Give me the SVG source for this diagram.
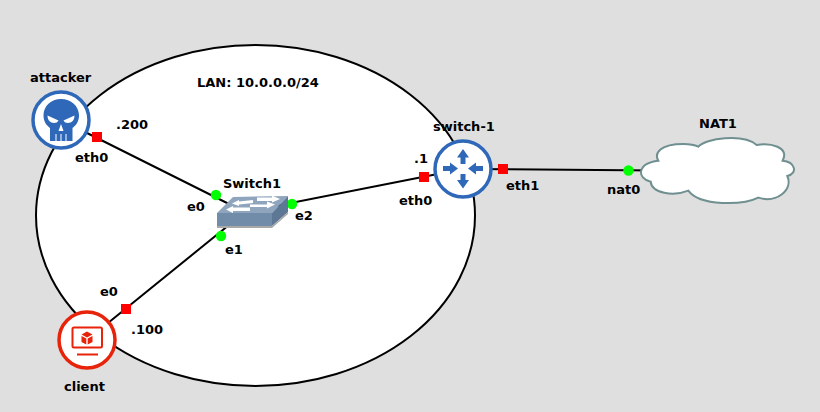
<svg xmlns="http://www.w3.org/2000/svg" width="820" height="412" viewBox="0 0 820 412">
<style>
text{font-family:"DejaVu Sans",sans-serif;font-weight:700;font-size:13px;fill:#000}
.l{stroke:#000;stroke-width:2;fill:none}
.r{fill:#f00}
.g{fill:#0f0}
.blue{fill:#2f68b8}
</style>
<rect width="820" height="412" fill="#dfdfdf"/>
<ellipse cx="255.5" cy="215.5" rx="219.5" ry="170.5" fill="#fff" stroke="#000" stroke-width="2"/>
<text x="197" y="87">LAN: 10.0.0.0/24</text>
<g id="connectors">
<line class="l" x1="61" y1="120" x2="245" y2="212"/>
<line class="l" x1="87" y1="340" x2="245" y2="212"/>
<line class="l" x1="245" y1="212" x2="463" y2="169"/>
<line class="l" x1="463" y1="169" x2="716" y2="171"/>
</g>
<g id="ports">
<rect class="r" x="92" y="132" width="10" height="10"/>
<rect class="r" x="121" y="304" width="10" height="10"/>
<rect class="r" x="419" y="172" width="10" height="10"/>
<rect class="r" x="498" y="164" width="10" height="10"/>
<circle class="g" cx="216" cy="195" r="5.200"/>
<circle class="g" cx="221" cy="236" r="5.200"/>
<circle class="g" cx="292" cy="204" r="5.200"/>
<circle class="g" cx="628.500" cy="170.500" r="5.200"/>
</g>
<g id="attacker">
<circle cx="61" cy="120" r="28" fill="#fff" stroke="#2f68b8" stroke-width="3.500"/>
<path class="blue" d="M61 99C71 99 79 106 79 115.500C79 121 76.500 125 72.500 128V141H50V128C46 125 43.500 121 43.500 115.500C43.500 106 51 99 61 99Z"/>
<path fill="#fff" d="M47.500 115.500L58.500 120.500C57.500 123 54 123.500 51.500 122.500C49 121.500 47.500 119 47.500 115.500ZM74.500 115.500L63.500 120.500C64.500 123 68 123.500 70.500 122.500C73 121.500 74.500 119 74.500 115.500ZM61 124L63.500 131H58.500ZM55.500 134h1v7h-1ZM60.500 134h1v7h-1ZM65.500 134h1v7h-1Z"/>
<text x="30" y="82">attacker</text>
<text x="75" y="162">eth0</text>
<text x="116" y="129">.200</text>
</g>
<g id="Switch1">
<path fill="#8fa5bd" d="M217 213L233 197L288 196L272 213Z"/>
<path fill="#708ca9" d="M217 213H272V226H217Z"/>
<path fill="#5d7894" d="M272 213L288 196V212L272 226Z"/>
<path fill="#a8a8a8" d="M217 226H272L288 212V214L272 228H217Z"/>
<path fill="#fff" d="M232 203.500L239 200V201.500L253 200V203L239 204.500V206ZM280 199L272 202.500V201H257V197.500H272V195.500ZM226 209.500L233 206V207.500H250V211H233V213ZM275 204.500L267 208.500V207H250V204.500H267V201.500Z"/>
<text x="223" y="188">Switch1</text>
<text x="187" y="211">e0</text>
<text x="225" y="254">e1</text>
<text x="295" y="220">e2</text>
</g>
<g id="switch-1">
<circle cx="463" cy="169" r="28" fill="#fff" stroke="#2f68b8" stroke-width="3.500"/>
<path class="blue" d="M463 149L469 157.500H465.500V164H460.500V157.500H457ZM463 188.500L469 180H465.500V174H460.500V180H457ZM458 168.500L450 162.500V166H443V171H450V174.500ZM468 168.500L476 162.500V166H483V171H476V174.500Z"/>
<text x="433" y="131">switch-1</text>
<text x="414" y="163">.1</text>
<text x="399" y="205">eth0</text>
<text x="506" y="190">eth1</text>
</g>
<g id="client">
<circle cx="87" cy="340" r="28" fill="#fff" stroke="#e8230a" stroke-width="3.500"/>
<rect x="72.500" y="327.500" width="29.500" height="20" rx="1.500" fill="none" stroke="#e8230a" stroke-width="2"/>
<path fill="#e8230a" d="M77 353.500H98V355.500H77ZM87 331.500L92.500 334.500L87 337.500L81.500 334.500ZM81.500 336L86.300 338.500V344.500L81.500 342ZM92.500 336L87.700 338.500V344.500L92.500 342Z"/>
<text x="64" y="391">client</text>
<text x="100" y="296">e0</text>
<text x="131" y="334">.100</text>
</g>
<g id="NAT1">
<path transform="translate(630 130) scale(.3333)" fill="#fff" stroke="#6f8f90" stroke-width="6" d="M85 92C72 70 90 42 160 42C180 42 195 45 205 50C225 25 340 10 380 45C420 38 480 50 458 92C495 95 505 130 472 138C490 180 440 220 385 203C340 225 210 230 175 182C130 200 65 190 62 155C20 145 20 100 85 92Z"/>
<text x="699" y="128">NAT1</text>
<text x="607" y="194">nat0</text>
</g>
</svg>
